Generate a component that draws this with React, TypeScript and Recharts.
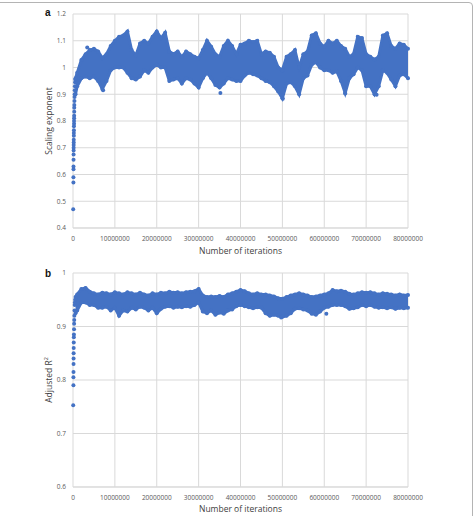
import { ComposedChart, Area, Scatter, XAxis, YAxis, CartesianGrid } from "recharts";

const BLUE = "#4472C4";
const GRID = "#d9d9d9";
const TICK = "#595959";
const FONT = "'Open Sans', sans-serif";

// iterations (millions) where the band edges were read
const iterM = [
  0.6, 1, 2, 3, 4, 5, 6, 7, 8, 9, 10, 11, 12, 13, 14, 15, 16, 17, 18, 19, 20,
  21, 22, 23, 24, 25, 26, 27, 28, 29, 30, 31, 32, 33, 34, 35, 36, 37, 38, 39, 40,
  41, 42, 43, 44, 45, 46, 47, 48, 49, 50, 51, 52, 53, 54, 55, 56, 57, 58, 59, 60,
  61, 62, 63, 64, 65, 66, 67, 68, 69, 70, 71, 72, 73, 74, 75, 76, 77, 78, 79, 80,
];

// panel a: scaling exponent, upper / lower edge of the point cloud
const expHi = [
  0.96, 0.98, 1.028, 1.05, 1.065, 1.07, 1.06, 1.035, 1.05, 1.08, 1.1,
  1.115, 1.12, 1.135, 1.065, 1.045, 1.09, 1.1, 1.09, 1.115, 1.135,
  1.11, 1.13, 1.06, 1.05, 1.06, 1.04, 1.06, 1.05, 1.04, 1.035,
  1.065, 1.1, 1.078, 1.05, 1.04, 1.08, 1.1, 1.08, 1.05, 1.085,
  1.09, 1.1, 1.095, 1.1, 1.05, 1.06, 1.055, 1.04, 1.0, 0.99,
  1.04, 1.05, 1.065, 1.0, 1.05, 1.06, 1.12, 1.128, 1.09, 1.078,
  1.1, 1.09, 1.1, 1.08, 1.07, 1.04, 1.05, 1.115, 1.11, 1.05,
  1.04, 1.03, 1.04, 1.12, 1.128, 1.08, 1.07, 1.09, 1.085, 1.07,
];
const expLo = [
  0.9, 0.93, 0.96, 0.966, 0.96, 0.966, 0.95, 0.92, 0.95, 0.99, 1.0,
  1.0, 1.0, 0.98, 0.96, 0.955, 0.966, 0.99, 0.98, 1.0, 1.01,
  1.0, 1.0, 0.95, 0.955, 0.96, 0.94, 0.96, 0.955, 0.94, 0.925,
  0.96, 0.98, 0.96, 0.935, 0.925, 0.94, 0.96, 0.955, 0.95, 0.95,
  0.97, 0.98, 0.975, 0.97, 0.96, 0.95, 0.945, 0.93, 0.91, 0.885,
  0.94, 0.945, 0.93, 0.9, 0.96, 0.97, 1.01, 1.02, 1.0, 0.99,
  0.99, 0.98, 0.985, 0.95, 0.905, 0.96, 0.975, 1.0, 0.99, 0.93,
  0.93, 0.9, 0.93, 0.99, 0.98, 0.955, 0.93, 0.97, 0.975, 0.96,
];
// early climb at the very start (iterations in millions, value)
const expRampX = [0.05, 0.1, 0.1, 0.12, 0.12, 0.13, 0.14, 0.15, 0.15, 0.16, 0.17, 0.18, 0.2, 0.2, 0.22, 0.23, 0.25, 0.25, 0.27, 0.28, 0.3, 0.3, 0.32, 0.35, 0.37, 0.4, 0.42, 0.45, 0.5, 0.55];
const expRampY = [0.47, 0.57, 0.59, 0.62, 0.63, 0.655, 0.675, 0.69, 0.7, 0.71, 0.72, 0.73, 0.745, 0.755, 0.765, 0.78, 0.79, 0.8, 0.81, 0.82, 0.835, 0.85, 0.86, 0.875, 0.89, 0.9, 0.915, 0.93, 0.945, 0.955];
const expOutX = [3.4, 7.2, 35.2, 50.1, 65.0, 72.5];
const expOutY = [1.075, 0.915, 0.905, 0.883, 0.903, 0.898];

// panel b: adjusted R2
const r2Hi = [
  0.955, 0.96, 0.97, 0.972, 0.965, 0.962, 0.96, 0.963, 0.962, 0.96, 0.964,
  0.962, 0.96, 0.964, 0.962, 0.96, 0.963, 0.96, 0.958, 0.962, 0.96,
  0.963, 0.962, 0.965, 0.963, 0.964, 0.962, 0.964, 0.965, 0.966, 0.97,
  0.958, 0.955, 0.956, 0.955, 0.957, 0.955, 0.96, 0.962, 0.965, 0.968,
  0.966, 0.962, 0.96, 0.962, 0.96, 0.96, 0.958, 0.956, 0.953, 0.952,
  0.955, 0.958, 0.96, 0.962, 0.96, 0.958, 0.955, 0.956, 0.958, 0.96,
  0.962, 0.968, 0.966, 0.967, 0.965, 0.961, 0.96, 0.962, 0.964, 0.963,
  0.964, 0.962, 0.96, 0.962, 0.961, 0.96, 0.958, 0.96, 0.958, 0.959,
];
const r2Lo = [
  0.925, 0.93, 0.945, 0.945, 0.94, 0.94, 0.935, 0.935, 0.937, 0.93, 0.935,
  0.92, 0.93, 0.928, 0.935, 0.932, 0.937, 0.935, 0.93, 0.935, 0.925,
  0.933, 0.937, 0.938, 0.935, 0.937, 0.936, 0.938, 0.937, 0.94, 0.945,
  0.928, 0.925, 0.93, 0.922, 0.926, 0.924, 0.93, 0.932, 0.938, 0.94,
  0.938, 0.936, 0.934, 0.936, 0.935, 0.925, 0.92, 0.922, 0.92, 0.918,
  0.92, 0.925, 0.933, 0.934, 0.932, 0.93, 0.924, 0.922, 0.928, 0.935,
  0.937, 0.94, 0.94, 0.94, 0.938, 0.933, 0.934, 0.936, 0.94, 0.938,
  0.94, 0.937, 0.935, 0.936, 0.934, 0.936, 0.933, 0.935, 0.934, 0.935,
];
const r2RampX = [0.05, 0.1, 0.1, 0.12, 0.13, 0.14, 0.15, 0.17, 0.18, 0.2, 0.22, 0.25, 0.27, 0.3, 0.33, 0.37, 0.4, 0.45, 0.5];
const r2RampY = [0.753, 0.79, 0.805, 0.815, 0.83, 0.84, 0.85, 0.86, 0.87, 0.88, 0.885, 0.895, 0.905, 0.912, 0.92, 0.93, 0.94, 0.945, 0.95];
const r2OutX = [49.7, 60.5];
const r2OutY = [0.917, 0.924];

const xTicks = [0, 10000000, 20000000, 30000000, 40000000, 50000000, 60000000, 70000000, 80000000];
const expTicks = [0.4, 0.5, 0.6, 0.7, 0.8, 0.9, 1, 1.1, 1.2];
const r2Ticks = [0.6, 0.7, 0.8, 0.9, 1];

const M = 1000000;

function Dot(props: any) {
  return <circle cx={props.cx} cy={props.cy} r={2} fill={BLUE} />;
}

interface PanelProps {
  top: number;
  height: number;
  marginTop: number;
  xAxisHeight: number;
  hi: number[];
  lo: number[];
  rampX: number[];
  rampY: number[];
  outX: number[];
  outY: number[];
  ticks: number[];
}

function Panel(p: PanelProps) {
  const band = iterM.map((x, i) => ({ x: x * M, lo: p.lo[i], hi: p.hi[i] }));
  const edges = iterM.flatMap((x, i) => [
    { x: x * M, y: p.hi[i] },
    { x: x * M, y: p.lo[i] },
  ]);
  const ramp = p.rampX.map((x, i) => ({ x: x * M, y: p.rampY[i] }));
  const outliers = p.outX.map((x, i) => ({ x: x * M, y: p.outY[i] }));
  const tickStyle = { fontSize: 6.5, fill: TICK, fontFamily: FONT };

  return (
    <div style={{ position: "absolute", left: 0, top: p.top }}>
      <ComposedChart
        width={475}
        height={p.height}
        data={band}
        margin={{ top: p.marginTop, right: 67, bottom: 0, left: 48 }}
      >
        <CartesianGrid stroke={GRID} strokeWidth={1} />
        <XAxis
          dataKey="x"
          type="number"
          domain={[0, 80000000]}
          ticks={xTicks}
          tickFormatter={(v) => String(v)}
          tick={tickStyle}
          tickLine={false}
          axisLine={{ stroke: GRID }}
          height={p.xAxisHeight}
          interval={0}
        />
        <YAxis
          dataKey="y"
          type="number"
          domain={[p.ticks[0], p.ticks[p.ticks.length - 1]]}
          ticks={p.ticks}
          tickFormatter={(v) => String(v)}
          tick={tickStyle}
          tickLine={false}
          tickMargin={1}
          axisLine={false}
          width={25}
          interval={0}
        />
        <Area
          type="linear"
          dataKey={(d: any) => [d.lo, d.hi]}
          stroke={BLUE}
          strokeWidth={3}
          fill={BLUE}
          fillOpacity={1}
          dot={false}
          activeDot={false}
          isAnimationActive={false}
        />
        <Scatter data={edges} dataKey="y" shape={Dot} isAnimationActive={false} />
        <Scatter data={ramp} dataKey="y" shape={Dot} isAnimationActive={false} />
        <Scatter data={outliers} dataKey="y" shape={Dot} isAnimationActive={false} />
      </ComposedChart>
    </div>
  );
}

const titleStyle: React.CSSProperties = {
  position: "absolute",
  fontFamily: FONT,
  fontSize: 8.5,
  lineHeight: "10px",
  color: "#404040",
  whiteSpace: "nowrap",
};

const letterStyle: React.CSSProperties = {
  position: "absolute",
  fontFamily: "'Liberation Sans', Arial, sans-serif",
  fontWeight: "bold",
  fontSize: 10,
  lineHeight: "10px",
  color: "#111",
};

export default function App() {
  return (
    <div
      style={{
        position: "absolute",
        left: 0,
        top: 0,
        width: 475,
        height: 516,
        overflow: "hidden",
        background: "#fff",
      }}
    >
      <div
        style={{
          position: "absolute",
          left: -10,
          top: 2,
          width: 481,
          height: 560,
          border: "1px solid #b4b4b4",
          borderRadius: 4,
        }}
      />
      <Panel
        top={0}
        height={258}
        marginTop={14}
        xAxisHeight={30}
        hi={expHi}
        lo={expLo}
        rampX={expRampX}
        rampY={expRampY}
        outX={expOutX}
        outY={expOutY}
        ticks={expTicks}
      />
      <Panel
        top={258}
        height={258}
        marginTop={15}
        xAxisHeight={29}
        hi={r2Hi}
        lo={r2Lo}
        rampX={r2RampX}
        rampY={r2RampY}
        outX={r2OutX}
        outY={r2OutY}
        ticks={r2Ticks}
      />

      <div style={{ ...letterStyle, left: 45, top: 7.5 }}>a</div>
      <div style={{ ...letterStyle, left: 45, top: 268.5 }}>b</div>

      <div style={{ ...titleStyle, left: 73, width: 335, top: 246, textAlign: "center" }}>
        Number of iterations
      </div>
      <div style={{ ...titleStyle, left: 73, width: 335, top: 504, textAlign: "center" }}>
        Number of iterations
      </div>

      <div
        style={{
          ...titleStyle,
          left: 49,
          top: 121,
          transform: "translate(-50%, -50%) rotate(-90deg)",
        }}
      >
        Scaling exponent
      </div>
      <div
        style={{
          ...titleStyle,
          left: 49,
          top: 380,
          transform: "translate(-50%, -50%) rotate(-90deg)",
        }}
      >
        Adjusted R<sup style={{ fontSize: 5.5, lineHeight: 0 }}>2</sup>
      </div>
    </div>
  );
}
